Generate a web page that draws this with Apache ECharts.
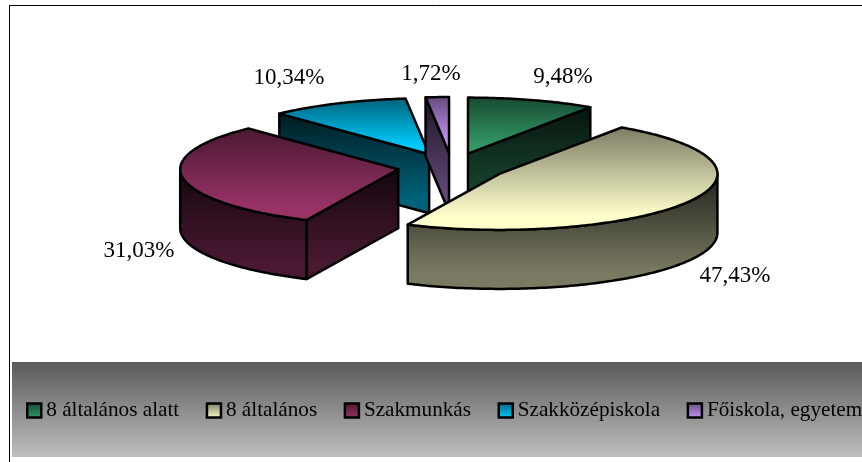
<!DOCTYPE html>
<html><head><meta charset="utf-8">
<style>html,body{margin:0;padding:0;background:#fff}#c{width:862px;height:462px}</style>
<script src="https://cdn.jsdelivr.net/npm/echarts@6/dist/echarts.min.js"></script>
</head><body><div id="c"></div>
<script>
const categories = ['8 általános alatt', '8 általános', 'Szakmunkás', 'Szakközépiskola', 'Főiskola, egyetem'];
const values = [9.48, 47.43, 31.03, 10.34, 1.72];
const baseColors = [[51,153,102],[255,255,204],[153,51,102],[0,204,255],[204,153,255]];
const drawZ = [2, 6, 5, 3, 4];
const labelOffsets = [[111,-90],[283,108.5],[-313,83.5],[-163,-89],[-21,-93]];

const pie = {cx: 452, cy: 167, rx: 218, ry: 56, depth: 59, explode: 0.25};
const total = values.reduce((a, b) => a + b, 0);
let run = 0;
const spans = values.map(v => { const s = run; run += v; return [s / total * 360, run / total * 360]; });

const rgb = (c, k) => `rgb(${c.map(x => Math.round(x * k)).join(',')})`;
const vert = (a, b, end = 1) => new echarts.graphic.LinearGradient(0, 0, 0, 1, [{offset: 0, color: a}, {offset: end, color: b}, {offset: 1, color: b}]);
const rad = d => d * Math.PI / 180;

function sliceShapes(i) {
  const [a0, a1] = spans[i];
  const mid = (a0 + a1) / 2;
  const ox = pie.cx + pie.explode * pie.rx * Math.sin(rad(mid));
  const oy = pie.cy - pie.explode * pie.ry * Math.cos(rad(mid));
  const rim = a => [ox + pie.rx * Math.sin(rad(a)), oy - pie.ry * Math.cos(rad(a))];
  const down = p => [p[0], p[1] + pie.depth];
  const arc = (s, e) => { const pts = []; const n = Math.max(2, Math.ceil(e - s)); for (let k = 0; k <= n; k++) pts.push(rim(s + (e - s) * k / n)); return pts; };
  const line = {stroke: '#000', lineWidth: 2.5, lineJoin: 'round'};
  const c = baseColors[i];
  const sideFill = () => vert(rgb(c, 0.13), rgb(c, 0.48), 0.85);
  const kids = [];
  const poly = (pts, fill) => kids.push({type: 'polygon', shape: {points: pts}, style: Object.assign({fill}, line)});
  const apex = [ox, oy];
  if (Math.cos(rad(a0 - 90)) < -1e-6) { const r = rim(a0); poly([apex, r, down(r), down(apex)], sideFill()); }
  if (Math.cos(rad(a1 + 90)) < -1e-6) { const r = rim(a1); poly([apex, r, down(r), down(apex)], sideFill()); }
  const s = Math.max(a0, 90), e = Math.min(a1, 270);
  if (e > s) { const top = arc(s, e); poly(top.concat(top.map(down).reverse()), sideFill()); }
  poly([apex].concat(arc(a0, a1)), vert(rgb(c, 0.48), rgb(c, 1), 0.85));
  const o = labelOffsets[i];
  kids.push({type: 'text', style: {
    text: values[i].toFixed(2).replace('.', ',') + '%',
    x: pie.cx + o[0],
    y: pie.cy + o[1],
    align: 'center', verticalAlign: 'middle',
    font: '23px "Liberation Serif"', fill: '#000'
  }});
  return kids;
}

const chart = echarts.init(document.getElementById('c'), null, {renderer: 'canvas'});
chart.setOption({
  animation: false,
  backgroundColor: '#fff',
  graphic: [
    {type: 'rect', silent: true, z: -10, shape: {x: 12, y: 362, width: 850, height: 95},
     style: {fill: vert('#5a5a5a', '#bfbfbf')}},
    {type: 'line', silent: true, z: -9, shape: {x1: 9.5, y1: 5.5, x2: 862, y2: 5.5}, style: {stroke: '#000', lineWidth: 1}},
    {type: 'line', silent: true, z: -9, shape: {x1: 9.5, y1: 5, x2: 9.5, y2: 462}, style: {stroke: '#000', lineWidth: 1}}
  ],
  legend: {
    left: 26, top: 400, width: 900, padding: 0, icon: 'rect', itemWidth: 14, itemHeight: 14, itemGap: 26.5, selectedMode: false,
    textStyle: {fontFamily: 'Liberation Serif', fontSize: 21.2, color: '#000'},
    data: categories.map((name, i) => ({name, itemStyle: {
      color: vert(rgb(baseColors[i], 0.48), rgb(baseColors[i], 1)), borderColor: '#000', borderWidth: 2.5}}))
  },
  series: categories.map((name, i) => ({
    type: 'custom', name, coordinateSystem: 'none', silent: true, z: drawZ[i],
    data: [values[i]],
    renderItem: () => ({type: 'group', children: sliceShapes(i)})
  }))
});
</script></body></html>
